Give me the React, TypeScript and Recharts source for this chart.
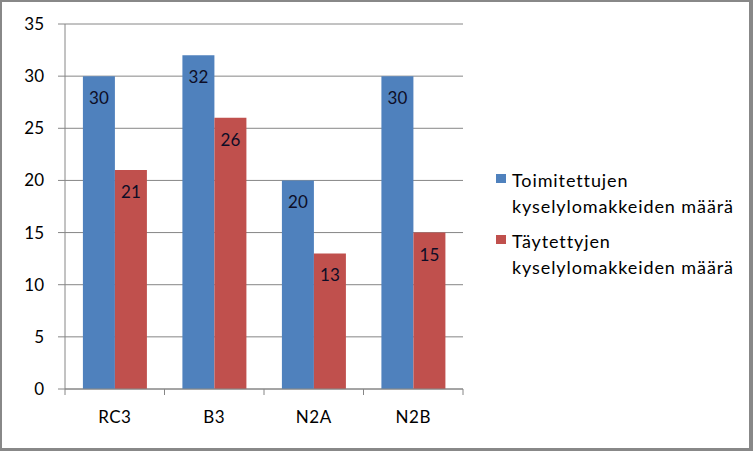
import { BarChart, Bar, XAxis, YAxis, CartesianGrid, Legend, LabelList } from "recharts";

const categories = ["RC3", "B3", "N2A", "N2B"];
const delivered = [30, 32, 20, 30];
const filled = [21, 26, 13, 15];
const yTicks = [0, 5, 10, 15, 20, 25, 30, 35];
const seriesNames = ["Toimitettujen kyselylomakkeiden määrä", "Täytettyjen kyselylomakkeiden määrä"];

const data = categories.map((name, i) => ({ name, delivered: delivered[i], filled: filled[i] }));

const W = 753;
const H = 451;
const MARGIN = { top: 24, right: 290, bottom: 32, left: 0 };
const Y_AXIS_W = 65;
const PLOT_W = W - MARGIN.left - MARGIN.right - Y_AXIS_W;
const X_TICK_SIZE = 6;
const X_TICK_MARGIN = 13;
const FONT = "Lato, 'Open Sans', sans-serif";
const GRID = "#868686";

const CategoryTick = (props: any) => {
  const { x, y, payload, index, visibleTicksCount } = props;
  const half = PLOT_W / visibleTicksCount / 2;
  const axisY = y - X_TICK_SIZE - X_TICK_MARGIN;
  return (
    <g>
      <line x1={x - half} x2={x - half} y1={axisY} y2={axisY + X_TICK_SIZE} stroke={GRID} />
      {index === visibleTicksCount - 1 && (
        <line x1={x + half} x2={x + half} y1={axisY} y2={axisY + X_TICK_SIZE} stroke={GRID} />
      )}
      <text x={x} y={y} dy={15} textAnchor="middle" fill="#000" fontSize={17} fontFamily={FONT} letterSpacing={0.5}>
        {payload.value}
      </text>
    </g>
  );
};

const LegendBox = (props: any) => {
  const { payload } = props;
  return (
    <div style={{ fontFamily: FONT, fontSize: 18, letterSpacing: 0.9, color: "#000", lineHeight: "26px" }}>
      {(payload || []).map((p: any, i: number) => (
        <div key={i} style={{ display: "flex", alignItems: "flex-start", marginBottom: 9 }}>
          <span
            style={{ width: 10, height: 9, background: p.color, marginTop: 7, marginRight: 6, flexShrink: 0 }}
          />
          <span style={{ width: 235 }}>{p.value}</span>
        </div>
      ))}
    </div>
  );
};

export default function App() {
  return (
    <div style={{ position: "absolute", left: 0, top: 0, width: W, height: H, background: "#fff" }}>
      <BarChart width={W} height={H} data={data} margin={MARGIN} barCategoryGap="18%" barGap={0}>
        <CartesianGrid horizontal vertical={false} stroke={GRID} />
        <XAxis
          dataKey="name"
          stroke={GRID}
          tickLine={false}
          tickSize={X_TICK_SIZE}
          tickMargin={X_TICK_MARGIN}
          height={30}
          interval={0}
          tick={<CategoryTick />}
        />
        <YAxis
          width={Y_AXIS_W}
          domain={[0, 35]}
          ticks={yTicks}
          interval={0}
          stroke={GRID}
          tickSize={7}
          tickMargin={14}
          tick={{ fill: "#000", fontSize: 17, fontFamily: FONT }}
        />
        <Legend
          layout="horizontal"
          verticalAlign="middle"
          align="center"
          wrapperStyle={{ left: 496, top: 167, width: 255 }}
          content={<LegendBox />}
        />
        <Bar dataKey="delivered" name={seriesNames[0]} fill="#4F81BD" isAnimationActive={false}>
          <LabelList dataKey="delivered" position="insideTop" offset={16} fill="#0d0d26" fontSize={17} fontFamily={FONT} />
        </Bar>
        <Bar dataKey="filled" name={seriesNames[1]} fill="#C0504D" isAnimationActive={false}>
          <LabelList dataKey="filled" position="insideTop" offset={16} fill="#0d0d26" fontSize={17} fontFamily={FONT} />
        </Bar>
      </BarChart>
      <div
        style={{
          position: "absolute",
          left: 0,
          top: 0,
          width: W,
          height: H,
          boxSizing: "border-box",
          borderTop: "2px solid #888",
          borderLeft: "2px solid #888",
          borderRight: "4px solid #888",
          borderBottom: "3px solid #888",
          pointerEvents: "none",
        }}
      />
    </div>
  );
}
